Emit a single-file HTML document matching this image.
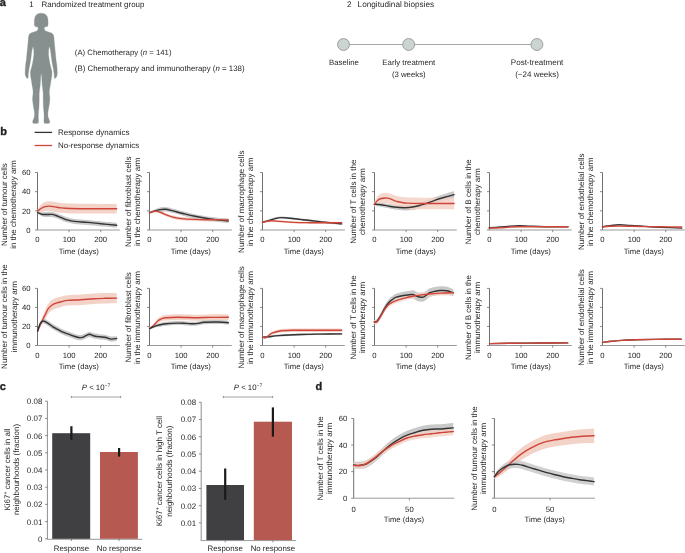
<!DOCTYPE html>
<html><head><meta charset="utf-8"><title>Figure</title>
<style>
html,body{margin:0;padding:0;background:#fff;}
body{width:685px;height:553px;overflow:hidden;}
svg{display:block;font-family:"Liberation Sans", sans-serif;will-change:transform;text-rendering:geometricPrecision;}
</style></head>
<body>
<svg width="685" height="553" viewBox="0 0 685 553">
<rect width="685" height="553" fill="#fff"/>
<text x="-0.3" y="5.8" font-size="11" font-weight="bold" stroke="#231f20" stroke-width="0.35" fill="#231f20">a</text>
<text x="29.3" y="6.6" font-size="7.95" fill="#231f20">1</text>
<text x="41.6" y="6.6" font-size="7.95" fill="#231f20">Randomized treatment group</text>
<text x="74.8" y="54.5" font-size="7.75" fill="#231f20">(A) Chemotherapy (<tspan font-style="italic">n</tspan> = 141)</text>
<text x="74.8" y="70.5" font-size="7.87" fill="#231f20">(B) Chemotherapy and immunotherapy (<tspan font-style="italic">n</tspan> = 138)</text>
<path d="M41.20,13.20 L43.60,13.50 L45.70,14.60 L47.20,16.60 L47.90,19.30 L48.10,22.00 L48.00,25.30 L47.40,26.50 L46.00,26.80 L44.40,27.00 L44.30,29.30 L45.50,31.00 L48.50,32.00 L51.50,33.00 L53.30,34.60 L53.90,37.00 L54.30,42.00 L54.90,48.20 L55.50,54.00 L56.00,59.50 L56.80,65.00 L57.20,70.00 L57.30,73.50 L56.90,76.00 L55.70,78.00 L54.60,78.50 L54.20,77.00 L54.20,74.60 L53.50,69.50 L52.30,63.50 L51.50,58.50 L51.00,54.30 L50.50,50.50 L49.70,47.00 L49.10,47.10 L48.60,50.50 L48.50,54.30 L49.00,58.50 L49.90,63.50 L51.10,68.50 L52.00,71.50 L51.80,76.00 L51.00,80.50 L50.30,85.20 L49.50,89.50 L49.30,93.30 L49.80,97.00 L49.80,100.30 L49.20,105.00 L48.30,110.00 L47.80,113.50 L48.10,117.00 L49.20,120.00 L49.80,121.50 L49.40,123.20 L47.00,123.40 L44.20,123.20 L43.90,121.00 L44.10,117.00 L44.00,113.50 L43.40,107.00 L43.20,100.30 L43.20,93.30 L42.70,89.00 L42.20,85.20 L41.90,80.00 L41.60,75.50 L41.20,73.20 L40.80,75.50 L40.50,80.00 L40.20,85.20 L39.70,89.00 L39.20,93.30 L39.20,100.30 L39.00,107.00 L38.40,113.50 L38.30,117.00 L38.50,121.00 L38.20,123.20 L35.40,123.40 L33.00,123.20 L32.60,121.50 L33.20,120.00 L34.30,117.00 L34.60,113.50 L34.10,110.00 L33.20,105.00 L32.60,100.30 L32.60,97.00 L33.10,93.30 L32.90,89.50 L32.10,85.20 L31.40,80.50 L30.60,76.00 L30.40,71.50 L31.30,68.50 L32.50,63.50 L33.40,58.50 L33.90,54.30 L33.80,50.50 L33.30,47.10 L32.70,47.00 L31.90,50.50 L31.40,54.30 L30.90,58.50 L30.10,63.50 L28.90,69.50 L28.20,74.60 L28.20,77.00 L27.80,78.50 L26.70,78.00 L25.50,76.00 L25.10,73.50 L25.20,70.00 L25.60,65.00 L26.40,59.50 L26.90,54.00 L27.50,48.20 L28.10,42.00 L28.50,37.00 L29.10,34.60 L30.90,33.00 L33.90,32.00 L36.90,31.00 L38.10,29.30 L38.00,27.00 L36.40,26.80 L35.00,26.50 L34.40,25.30 L34.30,22.00 L34.50,19.30 L35.20,16.60 L36.70,14.60 L38.80,13.50 L41.20,13.20 Z" fill="#87908e" stroke="#87908e" stroke-width="0.3" stroke-linejoin="round"/>
<text x="347.0" y="6.9" font-size="8.1" fill="#231f20">2</text>
<text x="357.6" y="6.9" font-size="8.2" fill="#231f20">Longitudinal biopsies</text>
<line x1="343.5" y1="44.5" x2="536.9" y2="44.5" stroke="#9d9d9d" stroke-width="0.9"/>
<circle cx="343.5" cy="44.5" r="5.95" fill="#ccd4d1" stroke="#979a98" stroke-width="0.95"/>
<circle cx="408.7" cy="44.5" r="5.95" fill="#ccd4d1" stroke="#979a98" stroke-width="0.95"/>
<circle cx="536.9" cy="44.5" r="5.95" fill="#ccd4d1" stroke="#979a98" stroke-width="0.95"/>
<text x="344.0" y="65.0" font-size="7.8" text-anchor="middle" fill="#231f20">Baseline</text>
<text x="408.8" y="65.0" font-size="7.8" text-anchor="middle" fill="#231f20">Early treatment</text>
<text x="408.8" y="76.7" font-size="7.8" text-anchor="middle" fill="#231f20">(3 weeks)</text>
<text x="537.1" y="65.0" font-size="8.0" text-anchor="middle" fill="#231f20">Post-treatment</text>
<text x="537.1" y="76.7" font-size="8.0" text-anchor="middle" fill="#231f20">(~24 weeks)</text>
<text x="0.2" y="134.8" font-size="11" font-weight="bold" stroke="#231f20" stroke-width="0.35" fill="#231f20">b</text>
<line x1="34.6" y1="132.4" x2="52.1" y2="132.4" stroke="#333" stroke-width="1.3"/>
<line x1="34.6" y1="145.5" x2="52.2" y2="145.5" stroke="#cf4539" stroke-width="1.3"/>
<text x="58.0" y="134.9" font-size="7.95" fill="#231f20">Response dynamics</text>
<text x="58.0" y="147.9" font-size="7.95" fill="#231f20">No-response dynamics</text>
<line x1="37.5" y1="172.5" x2="37.5" y2="230.0" stroke="#707070" stroke-width="1"/>
<line x1="37.5" y1="230.0" x2="119.8" y2="230.0" stroke="#9a9a9a" stroke-width="1"/>
<line x1="35.0" y1="172.50" x2="37.5" y2="172.50" stroke="#707070" stroke-width="0.8"/>
<line x1="35.0" y1="191.67" x2="37.5" y2="191.67" stroke="#707070" stroke-width="0.8"/>
<line x1="35.0" y1="210.83" x2="37.5" y2="210.83" stroke="#707070" stroke-width="0.8"/>
<line x1="35.0" y1="230.00" x2="37.5" y2="230.00" stroke="#707070" stroke-width="0.8"/>
<line x1="69.10" y1="230.0" x2="69.10" y2="232.2" stroke="#707070" stroke-width="0.8"/>
<line x1="100.70" y1="230.0" x2="100.70" y2="232.2" stroke="#707070" stroke-width="0.8"/>
<text x="37.5" y="242.0" font-size="7.7" text-anchor="middle" fill="#231f20">0</text>
<text x="69.1" y="242.0" font-size="7.7" text-anchor="middle" fill="#231f20">100</text>
<text x="100.7" y="242.0" font-size="7.7" text-anchor="middle" fill="#231f20">200</text>
<text x="78.8" y="253.8" font-size="7.7" text-anchor="middle" fill="#231f20">Time (days)</text>
<text x="30.6" y="175.25" font-size="7.7" text-anchor="end" fill="#231f20">60</text>
<text x="30.6" y="194.42" font-size="7.7" text-anchor="end" fill="#231f20">40</text>
<text x="30.6" y="213.58" font-size="7.7" text-anchor="end" fill="#231f20">20</text>
<text x="30.6" y="232.75" font-size="7.7" text-anchor="end" fill="#231f20">0</text>
<text transform="translate(7.30,204.55) rotate(-90)" font-size="8" text-anchor="middle" fill="#231f20">Number of tumour cells</text>
<text transform="translate(16.30,204.55) rotate(-90)" font-size="8" text-anchor="middle" fill="#231f20">in the chemotherapy arm</text>
<line x1="149.5" y1="172.5" x2="149.5" y2="230.0" stroke="#707070" stroke-width="1"/>
<line x1="149.5" y1="230.0" x2="231.8" y2="230.0" stroke="#9a9a9a" stroke-width="1"/>
<line x1="147.0" y1="172.50" x2="149.5" y2="172.50" stroke="#707070" stroke-width="0.8"/>
<line x1="147.0" y1="191.67" x2="149.5" y2="191.67" stroke="#707070" stroke-width="0.8"/>
<line x1="147.0" y1="210.83" x2="149.5" y2="210.83" stroke="#707070" stroke-width="0.8"/>
<line x1="147.0" y1="230.00" x2="149.5" y2="230.00" stroke="#707070" stroke-width="0.8"/>
<line x1="181.10" y1="230.0" x2="181.10" y2="232.2" stroke="#707070" stroke-width="0.8"/>
<line x1="212.70" y1="230.0" x2="212.70" y2="232.2" stroke="#707070" stroke-width="0.8"/>
<text x="149.5" y="242.0" font-size="7.7" text-anchor="middle" fill="#231f20">0</text>
<text x="181.1" y="242.0" font-size="7.7" text-anchor="middle" fill="#231f20">100</text>
<text x="212.7" y="242.0" font-size="7.7" text-anchor="middle" fill="#231f20">200</text>
<text x="190.8" y="253.8" font-size="7.7" text-anchor="middle" fill="#231f20">Time (days)</text>
<text transform="translate(131.20,201.75) rotate(-90)" font-size="8" text-anchor="middle" fill="#231f20">Number of fibroblast cells</text>
<text transform="translate(140.40,201.75) rotate(-90)" font-size="8" text-anchor="middle" fill="#231f20">in the chemotherapy arm</text>
<line x1="262.5" y1="172.5" x2="262.5" y2="230.0" stroke="#707070" stroke-width="1"/>
<line x1="262.5" y1="230.0" x2="344.8" y2="230.0" stroke="#9a9a9a" stroke-width="1"/>
<line x1="260.0" y1="172.50" x2="262.5" y2="172.50" stroke="#707070" stroke-width="0.8"/>
<line x1="260.0" y1="191.67" x2="262.5" y2="191.67" stroke="#707070" stroke-width="0.8"/>
<line x1="260.0" y1="210.83" x2="262.5" y2="210.83" stroke="#707070" stroke-width="0.8"/>
<line x1="260.0" y1="230.00" x2="262.5" y2="230.00" stroke="#707070" stroke-width="0.8"/>
<line x1="294.10" y1="230.0" x2="294.10" y2="232.2" stroke="#707070" stroke-width="0.8"/>
<line x1="325.70" y1="230.0" x2="325.70" y2="232.2" stroke="#707070" stroke-width="0.8"/>
<text x="262.5" y="242.0" font-size="7.7" text-anchor="middle" fill="#231f20">0</text>
<text x="294.1" y="242.0" font-size="7.7" text-anchor="middle" fill="#231f20">100</text>
<text x="325.7" y="242.0" font-size="7.7" text-anchor="middle" fill="#231f20">200</text>
<text x="303.8" y="253.8" font-size="7.7" text-anchor="middle" fill="#231f20">Time (days)</text>
<text transform="translate(244.20,201.75) rotate(-90)" font-size="8" text-anchor="middle" fill="#231f20">Number of macrophage cells</text>
<text transform="translate(253.40,201.75) rotate(-90)" font-size="8" text-anchor="middle" fill="#231f20">in the chemotherapy arm</text>
<line x1="374.5" y1="172.5" x2="374.5" y2="230.0" stroke="#707070" stroke-width="1"/>
<line x1="374.5" y1="230.0" x2="456.8" y2="230.0" stroke="#9a9a9a" stroke-width="1"/>
<line x1="372.0" y1="172.50" x2="374.5" y2="172.50" stroke="#707070" stroke-width="0.8"/>
<line x1="372.0" y1="191.67" x2="374.5" y2="191.67" stroke="#707070" stroke-width="0.8"/>
<line x1="372.0" y1="210.83" x2="374.5" y2="210.83" stroke="#707070" stroke-width="0.8"/>
<line x1="372.0" y1="230.00" x2="374.5" y2="230.00" stroke="#707070" stroke-width="0.8"/>
<line x1="406.10" y1="230.0" x2="406.10" y2="232.2" stroke="#707070" stroke-width="0.8"/>
<line x1="437.70" y1="230.0" x2="437.70" y2="232.2" stroke="#707070" stroke-width="0.8"/>
<text x="374.5" y="242.0" font-size="7.7" text-anchor="middle" fill="#231f20">0</text>
<text x="406.1" y="242.0" font-size="7.7" text-anchor="middle" fill="#231f20">100</text>
<text x="437.7" y="242.0" font-size="7.7" text-anchor="middle" fill="#231f20">200</text>
<text x="415.8" y="253.8" font-size="7.7" text-anchor="middle" fill="#231f20">Time (days)</text>
<text transform="translate(356.20,201.75) rotate(-90)" font-size="8" text-anchor="middle" fill="#231f20">Number of T cells in the</text>
<text transform="translate(365.40,201.75) rotate(-90)" font-size="8" text-anchor="middle" fill="#231f20">chemotherapy arm</text>
<line x1="489.5" y1="172.5" x2="489.5" y2="230.0" stroke="#707070" stroke-width="1"/>
<line x1="489.5" y1="230.0" x2="571.8" y2="230.0" stroke="#9a9a9a" stroke-width="1"/>
<line x1="487.0" y1="172.50" x2="489.5" y2="172.50" stroke="#707070" stroke-width="0.8"/>
<line x1="487.0" y1="191.67" x2="489.5" y2="191.67" stroke="#707070" stroke-width="0.8"/>
<line x1="487.0" y1="210.83" x2="489.5" y2="210.83" stroke="#707070" stroke-width="0.8"/>
<line x1="487.0" y1="230.00" x2="489.5" y2="230.00" stroke="#707070" stroke-width="0.8"/>
<line x1="521.10" y1="230.0" x2="521.10" y2="232.2" stroke="#707070" stroke-width="0.8"/>
<line x1="552.70" y1="230.0" x2="552.70" y2="232.2" stroke="#707070" stroke-width="0.8"/>
<text x="489.5" y="242.0" font-size="7.7" text-anchor="middle" fill="#231f20">0</text>
<text x="521.1" y="242.0" font-size="7.7" text-anchor="middle" fill="#231f20">100</text>
<text x="552.7" y="242.0" font-size="7.7" text-anchor="middle" fill="#231f20">200</text>
<text x="530.8" y="253.8" font-size="7.7" text-anchor="middle" fill="#231f20">Time (days)</text>
<text transform="translate(471.20,201.75) rotate(-90)" font-size="8" text-anchor="middle" fill="#231f20">Number of B cells in the</text>
<text transform="translate(480.40,201.75) rotate(-90)" font-size="8" text-anchor="middle" fill="#231f20">chemotherapy arm</text>
<line x1="602.5" y1="172.5" x2="602.5" y2="230.0" stroke="#707070" stroke-width="1"/>
<line x1="602.5" y1="230.0" x2="684.8" y2="230.0" stroke="#9a9a9a" stroke-width="1"/>
<line x1="600.0" y1="172.50" x2="602.5" y2="172.50" stroke="#707070" stroke-width="0.8"/>
<line x1="600.0" y1="191.67" x2="602.5" y2="191.67" stroke="#707070" stroke-width="0.8"/>
<line x1="600.0" y1="210.83" x2="602.5" y2="210.83" stroke="#707070" stroke-width="0.8"/>
<line x1="600.0" y1="230.00" x2="602.5" y2="230.00" stroke="#707070" stroke-width="0.8"/>
<line x1="634.10" y1="230.0" x2="634.10" y2="232.2" stroke="#707070" stroke-width="0.8"/>
<line x1="665.70" y1="230.0" x2="665.70" y2="232.2" stroke="#707070" stroke-width="0.8"/>
<text x="602.5" y="242.0" font-size="7.7" text-anchor="middle" fill="#231f20">0</text>
<text x="634.1" y="242.0" font-size="7.7" text-anchor="middle" fill="#231f20">100</text>
<text x="665.7" y="242.0" font-size="7.7" text-anchor="middle" fill="#231f20">200</text>
<text x="643.8" y="253.8" font-size="7.7" text-anchor="middle" fill="#231f20">Time (days)</text>
<text transform="translate(584.20,201.75) rotate(-90)" font-size="8" text-anchor="middle" fill="#231f20">Number of endothelial cells</text>
<text transform="translate(593.40,201.75) rotate(-90)" font-size="8" text-anchor="middle" fill="#231f20">in the chemotherapy arm</text>
<line x1="37.5" y1="288.4" x2="37.5" y2="345.5" stroke="#707070" stroke-width="1"/>
<line x1="37.5" y1="345.5" x2="119.8" y2="345.5" stroke="#9a9a9a" stroke-width="1"/>
<line x1="35.0" y1="288.40" x2="37.5" y2="288.40" stroke="#707070" stroke-width="0.8"/>
<line x1="35.0" y1="307.43" x2="37.5" y2="307.43" stroke="#707070" stroke-width="0.8"/>
<line x1="35.0" y1="326.47" x2="37.5" y2="326.47" stroke="#707070" stroke-width="0.8"/>
<line x1="35.0" y1="345.50" x2="37.5" y2="345.50" stroke="#707070" stroke-width="0.8"/>
<line x1="69.10" y1="345.5" x2="69.10" y2="347.7" stroke="#707070" stroke-width="0.8"/>
<line x1="100.70" y1="345.5" x2="100.70" y2="347.7" stroke="#707070" stroke-width="0.8"/>
<text x="37.5" y="357.5" font-size="7.7" text-anchor="middle" fill="#231f20">0</text>
<text x="69.1" y="357.5" font-size="7.7" text-anchor="middle" fill="#231f20">100</text>
<text x="100.7" y="357.5" font-size="7.7" text-anchor="middle" fill="#231f20">200</text>
<text x="78.8" y="369.3" font-size="7.7" text-anchor="middle" fill="#231f20">Time (days)</text>
<text x="30.6" y="291.15" font-size="7.7" text-anchor="end" fill="#231f20">60</text>
<text x="30.6" y="310.18" font-size="7.7" text-anchor="end" fill="#231f20">40</text>
<text x="30.6" y="329.22" font-size="7.7" text-anchor="end" fill="#231f20">20</text>
<text x="30.6" y="348.25" font-size="7.7" text-anchor="end" fill="#231f20">0</text>
<text transform="translate(7.30,316.65) rotate(-90)" font-size="8" text-anchor="middle" fill="#231f20">Number of tumour cells in the</text>
<text transform="translate(16.50,316.65) rotate(-90)" font-size="8" text-anchor="middle" fill="#231f20">immunotherapy arm</text>
<line x1="149.5" y1="288.4" x2="149.5" y2="345.5" stroke="#707070" stroke-width="1"/>
<line x1="149.5" y1="345.5" x2="231.8" y2="345.5" stroke="#9a9a9a" stroke-width="1"/>
<line x1="147.0" y1="288.40" x2="149.5" y2="288.40" stroke="#707070" stroke-width="0.8"/>
<line x1="147.0" y1="307.43" x2="149.5" y2="307.43" stroke="#707070" stroke-width="0.8"/>
<line x1="147.0" y1="326.47" x2="149.5" y2="326.47" stroke="#707070" stroke-width="0.8"/>
<line x1="147.0" y1="345.50" x2="149.5" y2="345.50" stroke="#707070" stroke-width="0.8"/>
<line x1="181.10" y1="345.5" x2="181.10" y2="347.7" stroke="#707070" stroke-width="0.8"/>
<line x1="212.70" y1="345.5" x2="212.70" y2="347.7" stroke="#707070" stroke-width="0.8"/>
<text x="149.5" y="357.5" font-size="7.7" text-anchor="middle" fill="#231f20">0</text>
<text x="181.1" y="357.5" font-size="7.7" text-anchor="middle" fill="#231f20">100</text>
<text x="212.7" y="357.5" font-size="7.7" text-anchor="middle" fill="#231f20">200</text>
<text x="190.8" y="369.3" font-size="7.7" text-anchor="middle" fill="#231f20">Time (days)</text>
<text transform="translate(131.20,317.45) rotate(-90)" font-size="8" text-anchor="middle" fill="#231f20">Number of fibroblast cells</text>
<text transform="translate(140.40,317.45) rotate(-90)" font-size="8" text-anchor="middle" fill="#231f20">in the immunotherapy arm</text>
<line x1="262.5" y1="288.4" x2="262.5" y2="345.5" stroke="#707070" stroke-width="1"/>
<line x1="262.5" y1="345.5" x2="344.8" y2="345.5" stroke="#9a9a9a" stroke-width="1"/>
<line x1="260.0" y1="288.40" x2="262.5" y2="288.40" stroke="#707070" stroke-width="0.8"/>
<line x1="260.0" y1="307.43" x2="262.5" y2="307.43" stroke="#707070" stroke-width="0.8"/>
<line x1="260.0" y1="326.47" x2="262.5" y2="326.47" stroke="#707070" stroke-width="0.8"/>
<line x1="260.0" y1="345.50" x2="262.5" y2="345.50" stroke="#707070" stroke-width="0.8"/>
<line x1="294.10" y1="345.5" x2="294.10" y2="347.7" stroke="#707070" stroke-width="0.8"/>
<line x1="325.70" y1="345.5" x2="325.70" y2="347.7" stroke="#707070" stroke-width="0.8"/>
<text x="262.5" y="357.5" font-size="7.7" text-anchor="middle" fill="#231f20">0</text>
<text x="294.1" y="357.5" font-size="7.7" text-anchor="middle" fill="#231f20">100</text>
<text x="325.7" y="357.5" font-size="7.7" text-anchor="middle" fill="#231f20">200</text>
<text x="303.8" y="369.3" font-size="7.7" text-anchor="middle" fill="#231f20">Time (days)</text>
<text transform="translate(244.20,317.45) rotate(-90)" font-size="8" text-anchor="middle" fill="#231f20">Number of macrophage cells</text>
<text transform="translate(253.40,317.45) rotate(-90)" font-size="8" text-anchor="middle" fill="#231f20">in the immunotherapy arm</text>
<line x1="374.5" y1="288.4" x2="374.5" y2="345.5" stroke="#707070" stroke-width="1"/>
<line x1="374.5" y1="345.5" x2="456.8" y2="345.5" stroke="#9a9a9a" stroke-width="1"/>
<line x1="372.0" y1="288.40" x2="374.5" y2="288.40" stroke="#707070" stroke-width="0.8"/>
<line x1="372.0" y1="307.43" x2="374.5" y2="307.43" stroke="#707070" stroke-width="0.8"/>
<line x1="372.0" y1="326.47" x2="374.5" y2="326.47" stroke="#707070" stroke-width="0.8"/>
<line x1="372.0" y1="345.50" x2="374.5" y2="345.50" stroke="#707070" stroke-width="0.8"/>
<line x1="406.10" y1="345.5" x2="406.10" y2="347.7" stroke="#707070" stroke-width="0.8"/>
<line x1="437.70" y1="345.5" x2="437.70" y2="347.7" stroke="#707070" stroke-width="0.8"/>
<text x="374.5" y="357.5" font-size="7.7" text-anchor="middle" fill="#231f20">0</text>
<text x="406.1" y="357.5" font-size="7.7" text-anchor="middle" fill="#231f20">100</text>
<text x="437.7" y="357.5" font-size="7.7" text-anchor="middle" fill="#231f20">200</text>
<text x="415.8" y="369.3" font-size="7.7" text-anchor="middle" fill="#231f20">Time (days)</text>
<text transform="translate(356.20,317.45) rotate(-90)" font-size="8" text-anchor="middle" fill="#231f20">Number of T cells in the</text>
<text transform="translate(365.40,317.45) rotate(-90)" font-size="8" text-anchor="middle" fill="#231f20">immunotherapy arm</text>
<line x1="489.5" y1="288.4" x2="489.5" y2="345.5" stroke="#707070" stroke-width="1"/>
<line x1="489.5" y1="345.5" x2="571.8" y2="345.5" stroke="#9a9a9a" stroke-width="1"/>
<line x1="487.0" y1="288.40" x2="489.5" y2="288.40" stroke="#707070" stroke-width="0.8"/>
<line x1="487.0" y1="307.43" x2="489.5" y2="307.43" stroke="#707070" stroke-width="0.8"/>
<line x1="487.0" y1="326.47" x2="489.5" y2="326.47" stroke="#707070" stroke-width="0.8"/>
<line x1="487.0" y1="345.50" x2="489.5" y2="345.50" stroke="#707070" stroke-width="0.8"/>
<line x1="521.10" y1="345.5" x2="521.10" y2="347.7" stroke="#707070" stroke-width="0.8"/>
<line x1="552.70" y1="345.5" x2="552.70" y2="347.7" stroke="#707070" stroke-width="0.8"/>
<text x="489.5" y="357.5" font-size="7.7" text-anchor="middle" fill="#231f20">0</text>
<text x="521.1" y="357.5" font-size="7.7" text-anchor="middle" fill="#231f20">100</text>
<text x="552.7" y="357.5" font-size="7.7" text-anchor="middle" fill="#231f20">200</text>
<text x="530.8" y="369.3" font-size="7.7" text-anchor="middle" fill="#231f20">Time (days)</text>
<text transform="translate(471.20,317.45) rotate(-90)" font-size="8" text-anchor="middle" fill="#231f20">Number of B cells in the</text>
<text transform="translate(480.40,317.45) rotate(-90)" font-size="8" text-anchor="middle" fill="#231f20">immunotherapy arm</text>
<line x1="602.5" y1="288.4" x2="602.5" y2="345.5" stroke="#707070" stroke-width="1"/>
<line x1="602.5" y1="345.5" x2="684.8" y2="345.5" stroke="#9a9a9a" stroke-width="1"/>
<line x1="600.0" y1="288.40" x2="602.5" y2="288.40" stroke="#707070" stroke-width="0.8"/>
<line x1="600.0" y1="307.43" x2="602.5" y2="307.43" stroke="#707070" stroke-width="0.8"/>
<line x1="600.0" y1="326.47" x2="602.5" y2="326.47" stroke="#707070" stroke-width="0.8"/>
<line x1="600.0" y1="345.50" x2="602.5" y2="345.50" stroke="#707070" stroke-width="0.8"/>
<line x1="634.10" y1="345.5" x2="634.10" y2="347.7" stroke="#707070" stroke-width="0.8"/>
<line x1="665.70" y1="345.5" x2="665.70" y2="347.7" stroke="#707070" stroke-width="0.8"/>
<text x="602.5" y="357.5" font-size="7.7" text-anchor="middle" fill="#231f20">0</text>
<text x="634.1" y="357.5" font-size="7.7" text-anchor="middle" fill="#231f20">100</text>
<text x="665.7" y="357.5" font-size="7.7" text-anchor="middle" fill="#231f20">200</text>
<text x="643.8" y="369.3" font-size="7.7" text-anchor="middle" fill="#231f20">Time (days)</text>
<text transform="translate(584.20,317.45) rotate(-90)" font-size="8" text-anchor="middle" fill="#231f20">Number of endothelial cells</text>
<text transform="translate(593.40,317.45) rotate(-90)" font-size="8" text-anchor="middle" fill="#231f20">in the immunotherapy arm</text>
<path d="M37.60,209.70 C38.17,208.86 39.77,205.98 41.00,204.68 C42.23,203.38 43.58,202.50 45.00,201.91 C46.42,201.32 47.83,201.13 49.50,201.13 C51.17,201.13 53.03,201.62 55.00,201.92 C56.97,202.23 58.80,202.67 61.30,202.95 C63.80,203.23 66.05,203.44 70.00,203.59 C73.95,203.74 80.00,203.80 85.00,203.86 C90.00,203.91 94.72,203.90 100.00,203.92 C105.28,203.95 113.92,203.99 116.70,204.00 L116.70,213.40 C113.92,213.41 105.28,213.45 100.00,213.48 C94.72,213.50 90.00,213.55 85.00,213.54 C80.00,213.53 73.95,213.53 70.00,213.41 C66.05,213.29 63.80,213.10 61.30,212.85 C58.80,212.59 56.97,212.17 55.00,211.88 C53.03,211.58 51.17,211.17 49.50,211.07 C47.83,210.97 46.42,211.08 45.00,211.29 C43.58,211.50 42.23,212.08 41.00,212.32 C39.77,212.55 38.17,212.64 37.60,212.70 Z" fill="#f3d2c7" fill-opacity="1.0" stroke="none"/>
<path d="M37.60,211.40 C38.27,211.54 40.20,212.16 41.60,212.24 C43.00,212.33 44.25,211.97 46.00,211.90 C47.75,211.83 50.43,211.65 52.10,211.82 C53.77,211.99 54.47,212.39 56.00,212.93 C57.53,213.47 59.47,214.32 61.30,215.05 C63.13,215.77 64.82,216.62 67.00,217.26 C69.18,217.90 70.97,218.44 74.40,218.88 C77.83,219.32 83.22,219.52 87.60,219.92 C91.98,220.31 95.85,220.78 100.70,221.26 C105.55,221.74 114.03,222.54 116.70,222.80 L116.70,227.60 C114.03,227.36 105.55,226.60 100.70,226.14 C95.85,225.69 91.98,225.25 87.60,224.88 C83.22,224.51 77.83,224.34 74.40,223.92 C70.97,223.49 69.18,222.97 67.00,222.34 C64.82,221.71 63.13,220.87 61.30,220.15 C59.47,219.44 57.53,218.60 56.00,218.07 C54.47,217.54 53.77,217.14 52.10,216.98 C50.43,216.82 47.75,217.23 46.00,217.10 C44.25,216.96 43.00,216.71 41.60,216.16 C40.20,215.61 38.27,214.19 37.60,213.80 Z" fill="#c9c9c9" fill-opacity="1.0" stroke="none"/>
<path d="M37.60,211.20 C38.17,210.75 39.77,209.27 41.00,208.50 C42.23,207.73 43.58,207.00 45.00,206.60 C46.42,206.20 47.83,206.05 49.50,206.10 C51.17,206.15 53.03,206.60 55.00,206.90 C56.97,207.20 58.80,207.63 61.30,207.90 C63.80,208.17 66.05,208.37 70.00,208.50 C73.95,208.63 80.00,208.67 85.00,208.70 C90.00,208.73 94.72,208.70 100.00,208.70 C105.28,208.70 113.92,208.70 116.70,208.70" fill="none" stroke="#cf4539" stroke-width="1.4" stroke-linejoin="round" stroke-linecap="round"/>
<path d="M37.60,212.60 C38.27,212.87 40.20,213.88 41.60,214.20 C43.00,214.52 44.25,214.47 46.00,214.50 C47.75,214.53 50.43,214.23 52.10,214.40 C53.77,214.57 54.47,214.97 56.00,215.50 C57.53,216.03 59.47,216.88 61.30,217.60 C63.13,218.32 64.82,219.17 67.00,219.80 C69.18,220.43 70.97,220.97 74.40,221.40 C77.83,221.83 83.22,222.02 87.60,222.40 C91.98,222.78 95.85,223.23 100.70,223.70 C105.55,224.17 114.03,224.95 116.70,225.20" fill="none" stroke="#333333" stroke-width="1.4" stroke-linejoin="round" stroke-linecap="round"/>
<path d="M149.50,212.00 C150.08,211.74 151.83,210.83 153.00,210.47 C154.17,210.11 155.17,209.75 156.50,209.83 C157.83,209.92 159.25,210.36 161.00,211.00 C162.75,211.63 164.67,212.83 167.00,213.67 C169.33,214.51 172.17,215.43 175.00,216.03 C177.83,216.64 179.83,216.98 184.00,217.29 C188.17,217.61 194.83,217.80 200.00,217.92 C205.17,218.05 210.28,218.03 215.00,218.06 C219.72,218.09 226.08,218.09 228.30,218.10 L228.30,221.70 C226.08,221.67 219.72,221.61 215.00,221.54 C210.28,221.47 205.17,221.45 200.00,221.28 C194.83,221.10 188.17,220.86 184.00,220.51 C179.83,220.15 177.83,219.79 175.00,219.17 C172.17,218.54 169.33,217.59 167.00,216.73 C164.67,215.87 162.75,214.73 161.00,214.00 C159.25,213.28 157.83,212.61 156.50,212.37 C155.17,212.12 154.17,212.33 153.00,212.53 C151.83,212.74 150.08,213.42 149.50,213.60 Z" fill="#f3d2c7" fill-opacity="1.0" stroke="none"/>
<path d="M149.50,212.00 C150.42,211.54 153.25,210.03 155.00,209.27 C156.75,208.50 158.25,207.76 160.00,207.40 C161.75,207.04 163.50,206.94 165.50,207.12 C167.50,207.29 169.08,207.73 172.00,208.44 C174.92,209.14 179.17,210.41 183.00,211.37 C186.83,212.33 190.50,213.29 195.00,214.20 C199.50,215.12 204.45,216.05 210.00,216.85 C215.55,217.65 225.25,218.64 228.30,219.00 L228.30,223.00 C225.25,222.66 215.55,221.72 210.00,220.95 C204.45,220.19 199.50,219.28 195.00,218.40 C190.50,217.51 186.83,216.57 183.00,215.63 C179.17,214.69 174.92,213.46 172.00,212.76 C169.08,212.07 167.50,211.64 165.50,211.48 C163.50,211.32 161.75,211.66 160.00,211.80 C158.25,211.94 156.75,212.03 155.00,212.33 C153.25,212.63 150.42,213.39 149.50,213.60 Z" fill="#c9c9c9" fill-opacity="1.0" stroke="none"/>
<path d="M149.50,212.80 C150.42,212.47 153.25,211.33 155.00,210.80 C156.75,210.27 158.25,209.85 160.00,209.60 C161.75,209.35 163.50,209.13 165.50,209.30 C167.50,209.47 169.08,209.90 172.00,210.60 C174.92,211.30 179.17,212.55 183.00,213.50 C186.83,214.45 190.50,215.40 195.00,216.30 C199.50,217.20 204.45,218.12 210.00,218.90 C215.55,219.68 225.25,220.65 228.30,221.00" fill="none" stroke="#333333" stroke-width="1.4" stroke-linejoin="round" stroke-linecap="round"/>
<path d="M149.50,212.80 C150.08,212.58 151.83,211.78 153.00,211.50 C154.17,211.22 155.17,210.93 156.50,211.10 C157.83,211.27 159.25,211.82 161.00,212.50 C162.75,213.18 164.67,214.35 167.00,215.20 C169.33,216.05 172.17,216.98 175.00,217.60 C177.83,218.22 179.83,218.57 184.00,218.90 C188.17,219.23 194.83,219.45 200.00,219.60 C205.17,219.75 210.28,219.75 215.00,219.80 C219.72,219.85 226.08,219.88 228.30,219.90" fill="none" stroke="#cf4539" stroke-width="1.4" stroke-linejoin="round" stroke-linecap="round"/>
<path d="M262.50,221.20 C263.42,220.97 265.92,220.40 268.00,219.80 C270.08,219.20 272.78,218.13 275.00,217.60 C277.22,217.07 278.80,216.65 281.30,216.60 C283.80,216.55 286.88,217.00 290.00,217.30 C293.12,217.60 296.67,218.03 300.00,218.40 C303.33,218.77 305.83,219.02 310.00,219.50 C314.17,219.98 319.72,220.73 325.00,221.30 C330.28,221.87 338.92,222.63 341.70,222.90 L341.70,224.90 C338.92,224.63 330.28,223.87 325.00,223.30 C319.72,222.73 314.17,221.98 310.00,221.50 C305.83,221.02 303.33,220.77 300.00,220.40 C296.67,220.03 293.12,219.60 290.00,219.30 C286.88,219.00 283.80,218.55 281.30,218.60 C278.80,218.65 277.22,219.07 275.00,219.60 C272.78,220.13 270.08,221.20 268.00,221.80 C265.92,222.40 263.42,222.97 262.50,223.20 Z" fill="#c9c9c9" fill-opacity="1.0" stroke="none"/>
<path d="M262.50,221.20 C263.25,221.03 265.40,220.43 267.00,220.20 C268.60,219.97 269.93,219.77 272.10,219.80 C274.27,219.83 276.28,220.13 280.00,220.40 C283.72,220.67 289.40,221.18 294.40,221.40 C299.40,221.62 304.90,221.63 310.00,221.70 C315.10,221.77 319.72,221.78 325.00,221.80 C330.28,221.82 338.92,221.80 341.70,221.80 L341.70,223.80 C338.92,223.80 330.28,223.82 325.00,223.80 C319.72,223.78 315.10,223.77 310.00,223.70 C304.90,223.63 299.40,223.62 294.40,223.40 C289.40,223.18 283.72,222.67 280.00,222.40 C276.28,222.13 274.27,221.83 272.10,221.80 C269.93,221.77 268.60,221.97 267.00,222.20 C265.40,222.43 263.25,223.03 262.50,223.20 Z" fill="#f3d2c7" fill-opacity="1.0" stroke="none"/>
<path d="M262.50,222.20 C263.42,221.97 265.92,221.40 268.00,220.80 C270.08,220.20 272.78,219.13 275.00,218.60 C277.22,218.07 278.80,217.65 281.30,217.60 C283.80,217.55 286.88,218.00 290.00,218.30 C293.12,218.60 296.67,219.03 300.00,219.40 C303.33,219.77 305.83,220.02 310.00,220.50 C314.17,220.98 319.72,221.73 325.00,222.30 C330.28,222.87 338.92,223.63 341.70,223.90" fill="none" stroke="#333333" stroke-width="1.4" stroke-linejoin="round" stroke-linecap="round"/>
<path d="M262.50,222.20 C263.25,222.03 265.40,221.43 267.00,221.20 C268.60,220.97 269.93,220.77 272.10,220.80 C274.27,220.83 276.28,221.13 280.00,221.40 C283.72,221.67 289.40,222.18 294.40,222.40 C299.40,222.62 304.90,222.63 310.00,222.70 C315.10,222.77 319.72,222.78 325.00,222.80 C330.28,222.82 338.92,222.80 341.70,222.80" fill="none" stroke="#cf4539" stroke-width="1.4" stroke-linejoin="round" stroke-linecap="round"/>
<path d="M374.30,202.40 C375.43,202.45 378.90,202.47 381.10,202.69 C383.30,202.90 385.30,203.37 387.50,203.69 C389.70,204.00 391.42,204.36 394.30,204.58 C397.18,204.80 401.52,205.12 404.80,205.01 C408.08,204.91 411.38,204.41 414.00,203.94 C416.62,203.48 418.32,202.88 420.50,202.22 C422.68,201.56 424.93,200.77 427.10,200.00 C429.27,199.23 431.30,198.39 433.50,197.58 C435.70,196.77 438.05,195.90 440.30,195.16 C442.55,194.41 444.70,193.82 447.00,193.13 C449.30,192.44 452.92,191.36 454.10,191.00 L454.10,198.20 C452.92,198.51 449.30,199.46 447.00,200.07 C444.70,200.68 442.55,201.19 440.30,201.84 C438.05,202.50 435.70,203.29 433.50,204.02 C431.30,204.75 429.27,205.51 427.10,206.20 C424.93,206.89 422.68,207.60 420.50,208.18 C418.32,208.76 416.62,209.29 414.00,209.66 C411.38,210.03 408.08,210.43 404.80,210.39 C401.52,210.35 397.18,209.80 394.30,209.42 C391.42,209.04 389.70,208.56 387.50,208.11 C385.30,207.66 383.30,207.06 381.10,206.71 C378.90,206.36 375.43,206.12 374.30,206.00 Z" fill="#c9c9c9" fill-opacity="1.0" stroke="none"/>
<path d="M374.30,201.90 C374.83,201.02 376.37,198.00 377.50,196.60 C378.63,195.19 379.40,194.09 381.10,193.48 C382.80,192.87 386.05,192.87 387.70,192.95 C389.35,193.03 389.68,193.50 391.00,193.96 C392.32,194.41 393.93,195.23 395.60,195.68 C397.27,196.13 399.03,196.39 401.00,196.66 C402.97,196.93 404.13,197.13 407.40,197.30 C410.67,197.47 416.00,197.63 420.60,197.70 C425.20,197.77 429.42,197.70 435.00,197.70 C440.58,197.70 450.92,197.70 454.10,197.70 L454.10,209.30 C450.92,209.30 440.58,209.30 435.00,209.30 C429.42,209.30 425.20,209.37 420.60,209.30 C416.00,209.23 410.67,209.13 407.40,208.90 C404.13,208.67 402.97,208.34 401.00,207.94 C399.03,207.54 397.27,207.11 395.60,206.52 C393.93,205.94 392.32,204.99 391.00,204.44 C389.68,203.89 389.35,203.41 387.70,203.25 C386.05,203.10 382.80,203.33 381.10,203.52 C379.40,203.71 378.63,203.84 377.50,204.40 C376.37,204.97 374.83,206.48 374.30,206.90 Z" fill="#f3d2c7" fill-opacity="0.85" stroke="none"/>
<path d="M374.30,204.20 C375.43,204.28 378.90,204.42 381.10,204.70 C383.30,204.98 385.30,205.52 387.50,205.90 C389.70,206.28 391.42,206.70 394.30,207.00 C397.18,207.30 401.52,207.73 404.80,207.70 C408.08,207.67 411.38,207.22 414.00,206.80 C416.62,206.38 418.32,205.82 420.50,205.20 C422.68,204.58 424.93,203.83 427.10,203.10 C429.27,202.37 431.30,201.57 433.50,200.80 C435.70,200.03 438.05,199.20 440.30,198.50 C442.55,197.80 444.70,197.25 447.00,196.60 C449.30,195.95 452.92,194.93 454.10,194.60" fill="none" stroke="#333333" stroke-width="1.4" stroke-linejoin="round" stroke-linecap="round"/>
<path d="M374.30,204.40 C374.83,203.75 376.37,201.48 377.50,200.50 C378.63,199.52 379.40,198.90 381.10,198.50 C382.80,198.10 386.05,197.98 387.70,198.10 C389.35,198.22 389.68,198.70 391.00,199.20 C392.32,199.70 393.93,200.58 395.60,201.10 C397.27,201.62 399.03,201.97 401.00,202.30 C402.97,202.63 404.13,202.90 407.40,203.10 C410.67,203.30 416.00,203.43 420.60,203.50 C425.20,203.57 429.42,203.50 435.00,203.50 C440.58,203.50 450.92,203.50 454.10,203.50" fill="none" stroke="#cf4539" stroke-width="1.4" stroke-linejoin="round" stroke-linecap="round"/>
<path d="M489.20,227.80 C491.00,227.67 496.53,227.28 500.00,227.00 C503.47,226.72 506.77,226.32 510.00,226.10 C513.23,225.88 516.07,225.68 519.40,225.70 C522.73,225.72 525.73,226.03 530.00,226.20 C534.27,226.37 538.67,226.60 545.00,226.70 C551.33,226.80 564.17,226.78 568.00,226.80" fill="none" stroke="#333333" stroke-width="1.4" stroke-linejoin="round" stroke-linecap="round"/>
<path d="M489.20,228.10 C491.00,228.05 496.53,227.97 500.00,227.80 C503.47,227.63 506.77,227.27 510.00,227.10 C513.23,226.93 514.40,226.85 519.40,226.80 C524.40,226.75 531.90,226.80 540.00,226.80 C548.10,226.80 563.33,226.80 568.00,226.80" fill="none" stroke="#cf4539" stroke-width="1.4" stroke-linejoin="round" stroke-linecap="round"/>
<path d="M602.50,226.80 C603.75,226.60 607.20,225.93 610.00,225.60 C612.80,225.27 615.97,224.83 619.30,224.80 C622.63,224.77 625.72,225.13 630.00,225.40 C634.28,225.67 640.00,226.10 645.00,226.40 C650.00,226.70 653.88,226.92 660.00,227.20 C666.12,227.48 678.08,227.95 681.70,228.10" fill="none" stroke="#333333" stroke-width="1.4" stroke-linejoin="round" stroke-linecap="round"/>
<path d="M602.50,226.80 C603.75,226.72 607.20,226.42 610.00,226.30 C612.80,226.18 614.30,226.07 619.30,226.10 C624.30,226.13 633.22,226.38 640.00,226.50 C646.78,226.62 653.05,226.72 660.00,226.80 C666.95,226.88 678.08,226.97 681.70,227.00" fill="none" stroke="#cf4539" stroke-width="1.4" stroke-linejoin="round" stroke-linecap="round"/>
<path d="M37.60,329.70 C37.92,328.78 38.83,325.98 39.50,324.16 C40.17,322.34 40.93,320.46 41.60,318.77 C42.27,317.09 42.85,315.59 43.50,314.06 C44.15,312.54 44.73,311.31 45.50,309.62 C46.27,307.93 47.00,305.55 48.10,303.90 C49.20,302.25 50.78,300.71 52.10,299.72 C53.42,298.73 54.47,298.50 56.00,297.96 C57.53,297.42 59.33,296.96 61.30,296.50 C63.27,296.04 64.52,295.53 67.80,295.20 C71.08,294.87 76.62,294.78 81.00,294.50 C85.38,294.22 90.10,293.73 94.10,293.50 C98.10,293.27 101.23,293.20 105.00,293.10 C108.77,293.00 114.75,292.93 116.70,292.90 L116.70,303.30 C114.75,303.33 108.77,303.40 105.00,303.50 C101.23,303.60 98.10,303.67 94.10,303.90 C90.10,304.13 85.38,304.62 81.00,304.90 C76.62,305.18 71.08,305.27 67.80,305.60 C64.52,305.93 63.27,306.43 61.30,306.90 C59.33,307.37 57.53,307.88 56.00,308.44 C54.47,309.00 53.42,309.37 52.10,310.28 C50.78,311.19 49.20,312.48 48.10,313.90 C47.00,315.31 46.27,317.44 45.50,318.78 C44.73,320.12 44.15,320.86 43.50,321.94 C42.85,323.01 42.27,324.07 41.60,325.23 C40.93,326.38 40.17,327.59 39.50,328.84 C38.83,330.08 37.92,332.06 37.60,332.70 Z" fill="#f3d2c7" fill-opacity="1.0" stroke="none"/>
<path d="M37.60,330.00 C38.05,328.56 39.32,323.27 40.30,321.34 C41.28,319.41 42.20,318.49 43.50,318.40 C44.80,318.31 46.52,319.83 48.10,320.80 C49.68,321.77 51.25,323.12 53.00,324.20 C54.75,325.28 56.93,326.40 58.60,327.30 C60.27,328.20 61.47,328.93 63.00,329.60 C64.53,330.27 66.13,330.70 67.80,331.30 C69.47,331.90 71.23,332.60 73.00,333.20 C74.77,333.80 76.85,334.63 78.40,334.90 C79.95,335.17 81.03,335.12 82.30,334.80 C83.57,334.48 84.80,333.52 86.00,333.00 C87.20,332.48 88.42,331.73 89.50,331.70 C90.58,331.67 91.52,332.48 92.50,332.80 C93.48,333.12 94.15,333.37 95.40,333.60 C96.65,333.83 98.23,333.98 100.00,334.20 C101.77,334.42 104.13,334.52 106.00,334.90 C107.87,335.28 109.42,336.33 111.20,336.50 C112.98,336.67 115.78,336.00 116.70,335.90 L116.70,341.10 C115.78,341.20 112.98,341.87 111.20,341.70 C109.42,341.53 107.87,340.48 106.00,340.10 C104.13,339.72 101.77,339.62 100.00,339.40 C98.23,339.18 96.65,339.03 95.40,338.80 C94.15,338.57 93.48,338.32 92.50,338.00 C91.52,337.68 90.58,336.87 89.50,336.90 C88.42,336.93 87.20,337.68 86.00,338.20 C84.80,338.72 83.57,339.68 82.30,340.00 C81.03,340.32 79.95,340.37 78.40,340.10 C76.85,339.83 74.77,339.00 73.00,338.40 C71.23,337.80 69.47,337.10 67.80,336.50 C66.13,335.90 64.53,335.47 63.00,334.80 C61.47,334.13 60.27,333.40 58.60,332.50 C56.93,331.60 54.75,330.48 53.00,329.40 C51.25,328.32 49.68,326.97 48.10,326.00 C46.52,325.03 44.80,323.69 43.50,323.60 C42.20,323.51 41.28,323.99 40.30,325.46 C39.32,326.93 38.05,331.24 37.60,332.40 Z" fill="#c9c9c9" fill-opacity="1.0" stroke="none"/>
<path d="M37.60,331.20 C37.92,330.42 38.83,328.03 39.50,326.50 C40.17,324.97 40.93,323.42 41.60,322.00 C42.27,320.58 42.85,319.30 43.50,318.00 C44.15,316.70 44.73,315.72 45.50,314.20 C46.27,312.68 47.00,310.43 48.10,308.90 C49.20,307.37 50.78,305.95 52.10,305.00 C53.42,304.05 54.47,303.75 56.00,303.20 C57.53,302.65 59.33,302.17 61.30,301.70 C63.27,301.23 64.52,300.73 67.80,300.40 C71.08,300.07 76.62,299.98 81.00,299.70 C85.38,299.42 90.10,298.93 94.10,298.70 C98.10,298.47 101.23,298.40 105.00,298.30 C108.77,298.20 114.75,298.13 116.70,298.10" fill="none" stroke="#cf4539" stroke-width="1.4" stroke-linejoin="round" stroke-linecap="round"/>
<path d="M37.60,331.20 C38.05,329.90 39.32,325.10 40.30,323.40 C41.28,321.70 42.20,321.00 43.50,321.00 C44.80,321.00 46.52,322.43 48.10,323.40 C49.68,324.37 51.25,325.72 53.00,326.80 C54.75,327.88 56.93,329.00 58.60,329.90 C60.27,330.80 61.47,331.53 63.00,332.20 C64.53,332.87 66.13,333.30 67.80,333.90 C69.47,334.50 71.23,335.20 73.00,335.80 C74.77,336.40 76.85,337.23 78.40,337.50 C79.95,337.77 81.03,337.72 82.30,337.40 C83.57,337.08 84.80,336.12 86.00,335.60 C87.20,335.08 88.42,334.33 89.50,334.30 C90.58,334.27 91.52,335.08 92.50,335.40 C93.48,335.72 94.15,335.97 95.40,336.20 C96.65,336.43 98.23,336.58 100.00,336.80 C101.77,337.02 104.13,337.12 106.00,337.50 C107.87,337.88 109.42,338.93 111.20,339.10 C112.98,339.27 115.78,338.60 116.70,338.50" fill="none" stroke="#333333" stroke-width="1.4" stroke-linejoin="round" stroke-linecap="round"/>
<path d="M149.60,327.60 C150.17,327.07 151.58,325.96 153.00,324.39 C154.42,322.83 156.60,319.61 158.10,318.20 C159.60,316.79 160.68,316.49 162.00,315.93 C163.32,315.38 163.37,315.16 166.00,314.87 C168.63,314.58 172.53,314.23 177.80,314.20 C183.07,314.17 192.23,314.67 197.60,314.70 C202.97,314.73 204.87,314.47 210.00,314.40 C215.13,314.33 225.33,314.32 228.40,314.30 L228.40,320.30 C225.33,320.32 215.13,320.33 210.00,320.40 C204.87,320.47 202.97,320.73 197.60,320.70 C192.23,320.67 183.07,320.23 177.80,320.20 C172.53,320.17 168.63,320.36 166.00,320.53 C163.37,320.71 163.32,320.82 162.00,321.27 C160.68,321.71 159.60,322.15 158.10,323.20 C156.60,324.26 154.42,326.54 153.00,327.61 C151.58,328.67 150.17,329.27 149.60,329.60 Z" fill="#f3d2c7" fill-opacity="1.0" stroke="none"/>
<path d="M149.60,327.60 C150.17,327.28 151.58,326.36 153.00,325.67 C154.42,324.99 155.93,324.13 158.10,323.48 C160.27,322.84 162.72,322.20 166.00,321.80 C169.28,321.40 174.47,321.17 177.80,321.10 C181.13,321.03 183.37,321.28 186.00,321.40 C188.63,321.52 191.43,321.83 193.60,321.80 C195.77,321.77 197.25,321.45 199.00,321.20 C200.75,320.95 200.83,320.50 204.10,320.30 C207.37,320.10 214.55,319.93 218.60,320.00 C222.65,320.07 226.77,320.58 228.40,320.70 L228.40,324.70 C226.77,324.58 222.65,324.07 218.60,324.00 C214.55,323.93 207.37,324.10 204.10,324.30 C200.83,324.50 200.75,324.95 199.00,325.20 C197.25,325.45 195.77,325.77 193.60,325.80 C191.43,325.83 188.63,325.52 186.00,325.40 C183.37,325.28 181.13,325.03 177.80,325.10 C174.47,325.17 169.28,325.46 166.00,325.80 C162.72,326.14 160.27,326.70 158.10,327.12 C155.93,327.54 154.42,327.91 153.00,328.33 C151.58,328.74 150.17,329.39 149.60,329.60 Z" fill="#c9c9c9" fill-opacity="1.0" stroke="none"/>
<path d="M149.60,328.60 C150.17,328.17 151.58,327.32 153.00,326.00 C154.42,324.68 156.60,321.93 158.10,320.70 C159.60,319.47 160.68,319.10 162.00,318.60 C163.32,318.10 163.37,317.93 166.00,317.70 C168.63,317.47 172.53,317.20 177.80,317.20 C183.07,317.20 192.23,317.67 197.60,317.70 C202.97,317.73 204.87,317.47 210.00,317.40 C215.13,317.33 225.33,317.32 228.40,317.30" fill="none" stroke="#cf4539" stroke-width="1.4" stroke-linejoin="round" stroke-linecap="round"/>
<path d="M149.60,328.60 C150.17,328.33 151.58,327.55 153.00,327.00 C154.42,326.45 155.93,325.83 158.10,325.30 C160.27,324.77 162.72,324.17 166.00,323.80 C169.28,323.43 174.47,323.17 177.80,323.10 C181.13,323.03 183.37,323.28 186.00,323.40 C188.63,323.52 191.43,323.83 193.60,323.80 C195.77,323.77 197.25,323.45 199.00,323.20 C200.75,322.95 200.83,322.50 204.10,322.30 C207.37,322.10 214.55,321.93 218.60,322.00 C222.65,322.07 226.77,322.58 228.40,322.70" fill="none" stroke="#333333" stroke-width="1.4" stroke-linejoin="round" stroke-linecap="round"/>
<path d="M262.50,336.40 C263.00,336.47 264.42,337.22 265.50,336.83 C266.58,336.43 267.90,334.86 269.00,334.03 C270.10,333.20 270.48,332.61 272.10,331.85 C273.72,331.09 275.42,330.03 278.70,329.47 C281.98,328.92 286.58,328.68 291.80,328.50 C297.02,328.32 301.68,328.42 310.00,328.40 C318.32,328.38 336.42,328.40 341.70,328.40 L341.70,332.00 C336.42,332.00 318.32,331.98 310.00,332.00 C301.68,332.02 297.02,331.95 291.80,332.10 C286.58,332.25 281.98,332.52 278.70,332.93 C275.42,333.33 273.72,333.97 272.10,334.55 C270.48,335.12 270.10,335.67 269.00,336.37 C267.90,337.08 266.58,338.50 265.50,338.77 C264.42,339.04 263.00,338.13 262.50,338.00 Z" fill="#f3d2c7" fill-opacity="1.0" stroke="none"/>
<path d="M262.50,336.20 C263.43,336.13 265.40,336.07 268.10,335.80 C270.80,335.53 273.22,334.98 278.70,334.60 C284.18,334.22 294.12,333.75 301.00,333.50 C307.88,333.25 313.22,333.20 320.00,333.10 C326.78,333.00 338.08,332.93 341.70,332.90 L341.70,334.90 C338.08,334.93 326.78,335.00 320.00,335.10 C313.22,335.20 307.88,335.25 301.00,335.50 C294.12,335.75 284.18,336.22 278.70,336.60 C273.22,336.98 270.80,337.53 268.10,337.80 C265.40,338.07 263.43,338.13 262.50,338.20 Z" fill="#c9c9c9" fill-opacity="1.0" stroke="none"/>
<path d="M262.50,337.20 C263.43,337.13 265.40,337.07 268.10,336.80 C270.80,336.53 273.22,335.98 278.70,335.60 C284.18,335.22 294.12,334.75 301.00,334.50 C307.88,334.25 313.22,334.20 320.00,334.10 C326.78,334.00 338.08,333.93 341.70,333.90" fill="none" stroke="#333333" stroke-width="1.4" stroke-linejoin="round" stroke-linecap="round"/>
<path d="M262.50,337.20 C263.00,337.30 264.42,338.13 265.50,337.80 C266.58,337.47 267.90,335.97 269.00,335.20 C270.10,334.43 270.48,333.87 272.10,333.20 C273.72,332.53 275.42,331.68 278.70,331.20 C281.98,330.72 286.58,330.47 291.80,330.30 C297.02,330.13 301.68,330.22 310.00,330.20 C318.32,330.18 336.42,330.20 341.70,330.20" fill="none" stroke="#cf4539" stroke-width="1.4" stroke-linejoin="round" stroke-linecap="round"/>
<path d="M374.30,320.00 C374.78,319.79 376.07,320.03 377.20,318.72 C378.33,317.41 379.78,314.51 381.10,312.15 C382.42,309.79 383.78,306.78 385.10,304.57 C386.42,302.36 387.77,300.32 389.00,298.90 C390.23,297.47 391.40,296.83 392.50,296.00 C393.60,295.17 393.77,294.60 395.60,293.90 C397.43,293.20 400.87,292.40 403.50,291.82 C406.13,291.25 409.65,290.63 411.40,290.43 C413.15,290.23 412.92,290.27 414.00,290.60 C415.08,290.93 416.37,292.06 417.90,292.41 C419.43,292.75 421.77,292.94 423.20,292.65 C424.63,292.37 425.40,291.42 426.50,290.71 C427.60,289.99 428.38,288.97 429.80,288.36 C431.22,287.75 433.25,287.39 435.00,287.05 C436.75,286.71 438.33,286.39 440.30,286.34 C442.27,286.29 444.62,286.27 446.80,286.75 C448.98,287.22 452.30,288.79 453.40,289.20 L453.40,296.20 C452.30,295.98 448.98,295.11 446.80,294.85 C444.62,294.60 442.27,294.55 440.30,294.66 C438.33,294.78 436.75,295.15 435.00,295.55 C433.25,295.95 431.22,296.38 429.80,297.04 C428.38,297.69 427.60,298.74 426.50,299.49 C425.40,300.24 424.63,301.26 423.20,301.55 C421.77,301.83 419.43,301.62 417.90,301.19 C416.37,300.77 415.08,299.44 414.00,299.00 C412.92,298.56 413.15,298.54 411.40,298.57 C409.65,298.60 406.13,298.79 403.50,299.18 C400.87,299.56 397.43,300.26 395.60,300.90 C393.77,301.54 393.60,302.20 392.50,303.00 C391.40,303.80 390.23,304.43 389.00,305.70 C387.77,306.98 386.42,308.67 385.10,310.63 C383.78,312.59 382.42,315.34 381.10,317.45 C379.78,319.56 378.33,322.19 377.20,323.28 C376.07,324.37 374.78,323.88 374.30,324.00 Z" fill="#c9c9c9" fill-opacity="1.0" stroke="none"/>
<path d="M374.30,320.00 C374.78,319.95 376.07,320.83 377.20,319.71 C378.33,318.59 379.78,315.48 381.10,313.28 C382.42,311.09 383.78,308.46 385.10,306.56 C386.42,304.65 387.47,303.11 389.00,301.83 C390.53,300.56 391.88,299.89 394.30,298.90 C396.72,297.91 400.22,296.80 403.50,295.90 C406.78,295.00 410.07,294.20 414.00,293.50 C417.93,292.80 422.72,292.18 427.10,291.70 C431.48,291.22 435.92,290.85 440.30,290.60 C444.68,290.35 451.22,290.27 453.40,290.20 L453.40,295.20 C451.22,295.27 444.68,295.35 440.30,295.60 C435.92,295.85 431.48,296.22 427.10,296.70 C422.72,297.18 417.93,297.80 414.00,298.50 C410.07,299.20 406.78,300.00 403.50,300.90 C400.22,301.80 396.72,302.92 394.30,303.90 C391.88,304.88 390.53,305.54 389.00,306.77 C387.47,307.99 386.42,309.42 385.10,311.24 C383.78,313.07 382.42,315.61 381.10,317.72 C379.78,319.82 378.33,322.85 377.20,323.89 C376.07,324.94 374.78,323.98 374.30,324.00 Z" fill="#f3d2c7" fill-opacity="0.7" stroke="none"/>
<path d="M374.30,322.00 C374.78,321.83 376.07,322.20 377.20,321.00 C378.33,319.80 379.78,317.03 381.10,314.80 C382.42,312.57 383.78,309.68 385.10,307.60 C386.42,305.52 387.77,303.65 389.00,302.30 C390.23,300.95 391.40,300.32 392.50,299.50 C393.60,298.68 393.77,298.07 395.60,297.40 C397.43,296.73 400.87,295.98 403.50,295.50 C406.13,295.02 409.65,294.62 411.40,294.50 C413.15,294.38 412.92,294.42 414.00,294.80 C415.08,295.18 416.37,296.42 417.90,296.80 C419.43,297.18 421.77,297.38 423.20,297.10 C424.63,296.82 425.40,295.83 426.50,295.10 C427.60,294.37 428.38,293.33 429.80,292.70 C431.22,292.07 433.25,291.67 435.00,291.30 C436.75,290.93 438.33,290.58 440.30,290.50 C442.27,290.42 444.62,290.43 446.80,290.80 C448.98,291.17 452.30,292.38 453.40,292.70" fill="none" stroke="#333333" stroke-width="1.4" stroke-linejoin="round" stroke-linecap="round"/>
<path d="M374.30,322.00 C374.78,321.97 376.07,322.88 377.20,321.80 C378.33,320.72 379.78,317.65 381.10,315.50 C382.42,313.35 383.78,310.77 385.10,308.90 C386.42,307.03 387.47,305.55 389.00,304.30 C390.53,303.05 391.88,302.38 394.30,301.40 C396.72,300.42 400.22,299.30 403.50,298.40 C406.78,297.50 410.07,296.70 414.00,296.00 C417.93,295.30 422.72,294.68 427.10,294.20 C431.48,293.72 435.92,293.35 440.30,293.10 C444.68,292.85 451.22,292.77 453.40,292.70" fill="none" stroke="#cf4539" stroke-width="1.4" stroke-linejoin="round" stroke-linecap="round"/>
<path d="M489.60,343.60 C493.00,343.55 501.60,343.40 510.00,343.30 C518.40,343.20 530.38,343.07 540.00,343.00 C549.62,342.93 563.08,342.92 567.70,342.90" fill="none" stroke="#333333" stroke-width="1.4" stroke-linejoin="round" stroke-linecap="round"/>
<path d="M489.60,343.60 C493.00,343.55 501.60,343.40 510.00,343.30 C518.40,343.20 530.38,343.07 540.00,343.00 C549.62,342.93 563.08,342.92 567.70,342.90" fill="none" stroke="#cf4539" stroke-width="1.4" stroke-linejoin="round" stroke-linecap="round"/>
<path d="M602.50,342.40 C604.08,342.22 608.75,341.63 612.00,341.30 C615.25,340.97 618.17,340.65 622.00,340.40 C625.83,340.15 629.50,339.97 635.00,339.80 C640.50,339.63 647.32,339.50 655.00,339.40 C662.68,339.30 676.75,339.23 681.10,339.20" fill="none" stroke="#333333" stroke-width="1.4" stroke-linejoin="round" stroke-linecap="round"/>
<path d="M602.50,342.40 C604.08,342.22 608.75,341.63 612.00,341.30 C615.25,340.97 618.17,340.65 622.00,340.40 C625.83,340.15 629.50,339.97 635.00,339.80 C640.50,339.63 647.32,339.50 655.00,339.40 C662.68,339.30 676.75,339.23 681.10,339.20" fill="none" stroke="#cf4539" stroke-width="1.4" stroke-linejoin="round" stroke-linecap="round"/>
<text x="-0.2" y="390.0" font-size="11" font-weight="bold" stroke="#231f20" stroke-width="0.35" fill="#231f20">c</text>
<line x1="47.4" y1="401.2" x2="47.4" y2="539.3" stroke="#8e8e8e" stroke-width="1"/>
<line x1="46.9" y1="539.3" x2="142.4" y2="539.3" stroke="#9a9a9a" stroke-width="1"/>
<line x1="45.1" y1="401.20" x2="47.4" y2="401.20" stroke="#707070" stroke-width="0.8"/>
<text x="42.3" y="404.15" font-size="7.95" text-anchor="end" fill="#231f20">0.08</text>
<line x1="45.1" y1="418.40" x2="47.4" y2="418.40" stroke="#707070" stroke-width="0.8"/>
<text x="42.3" y="421.35" font-size="7.95" text-anchor="end" fill="#231f20">0.07</text>
<line x1="45.1" y1="435.60" x2="47.4" y2="435.60" stroke="#707070" stroke-width="0.8"/>
<text x="42.3" y="438.55" font-size="7.95" text-anchor="end" fill="#231f20">0.06</text>
<line x1="45.1" y1="452.80" x2="47.4" y2="452.80" stroke="#707070" stroke-width="0.8"/>
<text x="42.3" y="455.75" font-size="7.95" text-anchor="end" fill="#231f20">0.05</text>
<line x1="45.1" y1="470.00" x2="47.4" y2="470.00" stroke="#707070" stroke-width="0.8"/>
<text x="42.3" y="472.95" font-size="7.95" text-anchor="end" fill="#231f20">0.04</text>
<line x1="45.1" y1="487.20" x2="47.4" y2="487.20" stroke="#707070" stroke-width="0.8"/>
<text x="42.3" y="490.15" font-size="7.95" text-anchor="end" fill="#231f20">0.03</text>
<line x1="45.1" y1="504.40" x2="47.4" y2="504.40" stroke="#707070" stroke-width="0.8"/>
<text x="42.3" y="507.35" font-size="7.95" text-anchor="end" fill="#231f20">0.02</text>
<line x1="45.1" y1="521.60" x2="47.4" y2="521.60" stroke="#707070" stroke-width="0.8"/>
<text x="42.3" y="524.55" font-size="7.95" text-anchor="end" fill="#231f20">0.01</text>
<line x1="45.1" y1="538.80" x2="47.4" y2="538.80" stroke="#707070" stroke-width="0.8"/>
<text x="42.3" y="541.75" font-size="7.95" text-anchor="end" fill="#231f20">0</text>
<rect x="52.2" y="433.2" width="38.00" height="105.60" fill="#404042"/>
<rect x="100.0" y="452.0" width="37.90" height="86.80" fill="#b65a51"/>
<line x1="71.4" y1="426.2" x2="71.4" y2="439.6" stroke="#1a1a1a" stroke-width="2.2"/>
<line x1="71.4" y1="538.8" x2="71.4" y2="541.0" stroke="#707070" stroke-width="0.8"/>
<line x1="119.1" y1="448.0" x2="119.1" y2="456.6" stroke="#1a1a1a" stroke-width="2.2"/>
<line x1="119.1" y1="538.8" x2="119.1" y2="541.0" stroke="#707070" stroke-width="0.8"/>
<line x1="71.4" y1="397.0" x2="120.6" y2="397.0" stroke="#8a8a8a" stroke-width="0.8"/>
<line x1="71.4" y1="396.1" x2="71.4" y2="398.1" stroke="#777" stroke-width="0.8"/>
<line x1="120.6" y1="396.1" x2="120.6" y2="398.1" stroke="#777" stroke-width="0.8"/>
<text x="96.0" y="390.0" font-size="7.8" text-anchor="middle" fill="#231f20"><tspan font-style="italic">P</tspan> &lt; 10<tspan font-size="5" dy="-3">−7</tspan></text>
<text x="71.4" y="551.4" font-size="7.85" text-anchor="middle" fill="#231f20">Response</text>
<text x="119.1" y="551.4" font-size="7.85" text-anchor="middle" fill="#231f20">No response</text>
<text transform="translate(9.70,469.50) rotate(-90)" font-size="8" text-anchor="middle" fill="#231f20">Ki67<tspan font-size="5" dy="-3">+</tspan><tspan dy="3"> cancer cells in all</tspan></text>
<text transform="translate(19.05,469.50) rotate(-90)" font-size="8" text-anchor="middle" fill="#231f20">neighbourhoods (fraction)</text>
<line x1="201.2" y1="402.3" x2="201.2" y2="540.6" stroke="#8e8e8e" stroke-width="1"/>
<line x1="200.7" y1="540.6" x2="296.2" y2="540.6" stroke="#9a9a9a" stroke-width="1"/>
<line x1="198.89999999999998" y1="402.30" x2="201.2" y2="402.30" stroke="#707070" stroke-width="0.8"/>
<text x="196.1" y="405.25" font-size="7.95" text-anchor="end" fill="#231f20">0.08</text>
<line x1="198.89999999999998" y1="419.53" x2="201.2" y2="419.53" stroke="#707070" stroke-width="0.8"/>
<text x="196.1" y="422.48" font-size="7.95" text-anchor="end" fill="#231f20">0.07</text>
<line x1="198.89999999999998" y1="436.75" x2="201.2" y2="436.75" stroke="#707070" stroke-width="0.8"/>
<text x="196.1" y="439.7" font-size="7.95" text-anchor="end" fill="#231f20">0.06</text>
<line x1="198.89999999999998" y1="453.98" x2="201.2" y2="453.98" stroke="#707070" stroke-width="0.8"/>
<text x="196.1" y="456.93" font-size="7.95" text-anchor="end" fill="#231f20">0.05</text>
<line x1="198.89999999999998" y1="471.20" x2="201.2" y2="471.20" stroke="#707070" stroke-width="0.8"/>
<text x="196.1" y="474.15" font-size="7.95" text-anchor="end" fill="#231f20">0.04</text>
<line x1="198.89999999999998" y1="488.43" x2="201.2" y2="488.43" stroke="#707070" stroke-width="0.8"/>
<text x="196.1" y="491.38" font-size="7.95" text-anchor="end" fill="#231f20">0.03</text>
<line x1="198.89999999999998" y1="505.65" x2="201.2" y2="505.65" stroke="#707070" stroke-width="0.8"/>
<text x="196.1" y="508.6" font-size="7.95" text-anchor="end" fill="#231f20">0.02</text>
<line x1="198.89999999999998" y1="522.88" x2="201.2" y2="522.88" stroke="#707070" stroke-width="0.8"/>
<text x="196.1" y="525.83" font-size="7.95" text-anchor="end" fill="#231f20">0.01</text>
<rect x="206.4" y="485.0" width="37.60" height="55.10" fill="#404042"/>
<rect x="253.8" y="421.7" width="38.20" height="118.40" fill="#b65a51"/>
<line x1="225.2" y1="468.5" x2="225.2" y2="499.8" stroke="#1a1a1a" stroke-width="2.2"/>
<line x1="225.2" y1="540.1" x2="225.2" y2="542.3000000000001" stroke="#707070" stroke-width="0.8"/>
<line x1="272.9" y1="407.4" x2="272.9" y2="436.7" stroke="#1a1a1a" stroke-width="2.2"/>
<line x1="272.9" y1="540.1" x2="272.9" y2="542.3000000000001" stroke="#707070" stroke-width="0.8"/>
<line x1="223.4" y1="397.0" x2="272.6" y2="397.0" stroke="#8a8a8a" stroke-width="0.8"/>
<line x1="223.4" y1="396.1" x2="223.4" y2="398.1" stroke="#777" stroke-width="0.8"/>
<line x1="272.6" y1="396.1" x2="272.6" y2="398.1" stroke="#777" stroke-width="0.8"/>
<text x="248.0" y="390.0" font-size="7.8" text-anchor="middle" fill="#231f20"><tspan font-style="italic">P</tspan> &lt; 10<tspan font-size="5" dy="-3">−7</tspan></text>
<text x="225.2" y="551.4" font-size="7.85" text-anchor="middle" fill="#231f20">Response</text>
<text x="272.9" y="551.4" font-size="7.85" text-anchor="middle" fill="#231f20">No response</text>
<text transform="translate(162.20,471.20) rotate(-90)" font-size="8" text-anchor="middle" fill="#231f20">Ki67<tspan font-size="5" dy="-3">+</tspan><tspan dy="3"> cancer cells in high T cell</tspan></text>
<text transform="translate(171.55,471.20) rotate(-90)" font-size="8" text-anchor="middle" fill="#231f20">neighbourhoods (fraction)</text>
<text x="315.4" y="389.9" font-size="11" font-weight="bold" stroke="#231f20" stroke-width="0.35" fill="#231f20">d</text>
<line x1="353.7" y1="418.5" x2="353.7" y2="498.2" stroke="#707070" stroke-width="1"/>
<line x1="353.7" y1="498.2" x2="454.2" y2="498.2" stroke="#9a9a9a" stroke-width="1"/>
<line x1="351.2" y1="418.50" x2="353.7" y2="418.50" stroke="#707070" stroke-width="0.8"/>
<line x1="351.2" y1="445.07" x2="353.7" y2="445.07" stroke="#707070" stroke-width="0.8"/>
<line x1="351.2" y1="471.63" x2="353.7" y2="471.63" stroke="#707070" stroke-width="0.8"/>
<line x1="351.2" y1="498.20" x2="353.7" y2="498.20" stroke="#707070" stroke-width="0.8"/>
<line x1="409.40" y1="498.2" x2="409.40" y2="500.4" stroke="#707070" stroke-width="0.8"/>
<text x="353.7" y="511.5" font-size="7.7" text-anchor="middle" fill="#231f20">0</text>
<text x="409.4" y="511.5" font-size="7.7" text-anchor="middle" fill="#231f20">50</text>
<text x="404.0" y="522.2" font-size="7.7" text-anchor="middle" fill="#231f20">Time (days)</text>
<text x="347.4" y="421.25" font-size="7.7" text-anchor="end" fill="#231f20">60</text>
<text x="347.4" y="447.82" font-size="7.7" text-anchor="end" fill="#231f20">40</text>
<text x="347.4" y="474.38" font-size="7.7" text-anchor="end" fill="#231f20">20</text>
<text x="347.4" y="500.95" font-size="7.7" text-anchor="end" fill="#231f20">0</text>
<text transform="translate(322.50,458.50) rotate(-90)" font-size="8" text-anchor="middle" fill="#231f20">Number of T cells in the</text>
<text transform="translate(331.80,458.50) rotate(-90)" font-size="8" text-anchor="middle" fill="#231f20">immunotherapy arm</text>
<line x1="494.4" y1="418.5" x2="494.4" y2="498.2" stroke="#707070" stroke-width="1"/>
<line x1="494.4" y1="498.2" x2="594.9" y2="498.2" stroke="#9a9a9a" stroke-width="1"/>
<line x1="491.9" y1="418.50" x2="494.4" y2="418.50" stroke="#707070" stroke-width="0.8"/>
<line x1="491.9" y1="445.07" x2="494.4" y2="445.07" stroke="#707070" stroke-width="0.8"/>
<line x1="491.9" y1="471.63" x2="494.4" y2="471.63" stroke="#707070" stroke-width="0.8"/>
<line x1="491.9" y1="498.20" x2="494.4" y2="498.20" stroke="#707070" stroke-width="0.8"/>
<line x1="550.10" y1="498.2" x2="550.10" y2="500.4" stroke="#707070" stroke-width="0.8"/>
<text x="494.4" y="511.5" font-size="7.7" text-anchor="middle" fill="#231f20">0</text>
<text x="550.1" y="511.5" font-size="7.7" text-anchor="middle" fill="#231f20">50</text>
<text x="544.7" y="522.2" font-size="7.7" text-anchor="middle" fill="#231f20">Time (days)</text>
<text transform="translate(476.80,458.50) rotate(-90)" font-size="8" text-anchor="middle" fill="#231f20">Number of tumour cells in the</text>
<text transform="translate(486.10,458.50) rotate(-90)" font-size="8" text-anchor="middle" fill="#231f20">immunotherapy arm</text>
<path d="M353.60,461.50 C354.63,461.54 357.68,461.92 359.80,461.73 C361.92,461.54 363.87,461.47 366.30,460.36 C368.73,459.24 371.70,457.18 374.40,455.06 C377.10,452.94 379.78,450.08 382.50,447.64 C385.22,445.21 387.98,442.55 390.70,440.45 C393.42,438.35 396.08,436.67 398.80,435.06 C401.52,433.45 404.28,431.95 407.00,430.77 C409.72,429.59 412.40,428.81 415.10,427.96 C417.80,427.12 420.48,426.28 423.20,425.71 C425.92,425.14 428.68,424.79 431.40,424.55 C434.12,424.32 437.07,424.43 439.50,424.30 C441.93,424.16 443.70,423.95 446.00,423.75 C448.30,423.55 452.08,423.21 453.30,423.10 L453.30,432.70 C452.08,432.79 448.30,433.08 446.00,433.25 C443.70,433.42 441.93,433.60 439.50,433.70 C437.07,433.80 434.12,433.65 431.40,433.85 C428.68,434.05 425.92,434.36 423.20,434.89 C420.48,435.42 417.80,436.25 415.10,437.04 C412.40,437.83 409.72,438.55 407.00,439.63 C404.28,440.71 401.52,442.05 398.80,443.54 C396.08,445.03 393.42,446.58 390.70,448.55 C387.98,450.52 385.22,453.03 382.50,455.36 C379.78,457.69 377.10,460.49 374.40,462.54 C371.70,464.58 368.73,466.59 366.30,467.64 C363.87,468.70 361.92,468.73 359.80,468.87 C357.68,469.01 354.63,468.56 353.60,468.50 Z" fill="#c9c9c9" fill-opacity="1.0" stroke="none"/>
<path d="M353.60,462.30 C354.63,462.36 357.68,462.92 359.80,462.63 C361.92,462.34 363.87,461.87 366.30,460.56 C368.73,459.25 371.70,456.84 374.40,454.78 C377.10,452.71 379.78,450.25 382.50,448.19 C385.22,446.13 387.98,444.06 390.70,442.40 C393.42,440.74 396.08,439.54 398.80,438.21 C401.52,436.89 404.28,435.43 407.00,434.46 C409.72,433.49 412.40,432.98 415.10,432.42 C417.80,431.85 420.48,431.45 423.20,431.07 C425.92,430.69 428.68,430.46 431.40,430.12 C434.12,429.79 437.07,429.36 439.50,429.08 C441.93,428.80 443.70,428.67 446.00,428.44 C448.30,428.21 452.08,427.82 453.30,427.70 L453.30,435.30 C452.08,435.41 448.30,435.76 446.00,435.96 C443.70,436.16 441.93,436.27 439.50,436.52 C437.07,436.78 434.12,437.18 431.40,437.48 C428.68,437.78 425.92,437.98 423.20,438.33 C420.48,438.68 417.80,439.05 415.10,439.58 C412.40,440.12 409.72,440.61 407.00,441.54 C404.28,442.47 401.52,443.91 398.80,445.19 C396.08,446.46 393.42,447.60 390.70,449.20 C387.98,450.80 385.22,452.81 382.50,454.81 C379.78,456.82 377.10,459.22 374.40,461.22 C371.70,463.23 368.73,465.58 366.30,466.84 C363.87,468.09 361.92,468.52 359.80,468.77 C357.68,469.01 354.63,468.38 353.60,468.30 Z" fill="#f3d2c7" fill-opacity="0.8" stroke="none"/>
<path d="M353.60,465.00 C354.63,465.05 357.68,465.47 359.80,465.30 C361.92,465.13 363.87,465.08 366.30,464.00 C368.73,462.92 371.70,460.88 374.40,458.80 C377.10,456.72 379.78,453.88 382.50,451.50 C385.22,449.12 387.98,446.53 390.70,444.50 C393.42,442.47 396.08,440.85 398.80,439.30 C401.52,437.75 404.28,436.33 407.00,435.20 C409.72,434.07 412.40,433.32 415.10,432.50 C417.80,431.68 420.48,430.85 423.20,430.30 C425.92,429.75 428.68,429.42 431.40,429.20 C434.12,428.98 437.07,429.12 439.50,429.00 C441.93,428.88 443.70,428.68 446.00,428.50 C448.30,428.32 452.08,428.00 453.30,427.90" fill="none" stroke="#333333" stroke-width="1.4" stroke-linejoin="round" stroke-linecap="round"/>
<path d="M353.60,465.30 C354.63,465.37 357.68,465.97 359.80,465.70 C361.92,465.43 363.87,464.98 366.30,463.70 C368.73,462.42 371.70,460.03 374.40,458.00 C377.10,455.97 379.78,453.53 382.50,451.50 C385.22,449.47 387.98,447.43 390.70,445.80 C393.42,444.17 396.08,443.00 398.80,441.70 C401.52,440.40 404.28,438.95 407.00,438.00 C409.72,437.05 412.40,436.55 415.10,436.00 C417.80,435.45 420.48,435.07 423.20,434.70 C425.92,434.33 428.68,434.12 431.40,433.80 C434.12,433.48 437.07,433.07 439.50,432.80 C441.93,432.53 443.70,432.42 446.00,432.20 C448.30,431.98 452.08,431.62 453.30,431.50" fill="none" stroke="#cf4539" stroke-width="1.4" stroke-linejoin="round" stroke-linecap="round"/>
<path d="M494.40,474.20 C495.30,473.41 497.82,471.33 499.80,469.44 C501.78,467.54 503.87,465.34 506.30,462.83 C508.73,460.31 511.70,456.98 514.40,454.35 C517.10,451.72 519.78,449.11 522.50,447.04 C525.22,444.97 527.98,443.48 530.70,441.93 C533.42,440.38 536.08,438.92 538.80,437.73 C541.52,436.54 544.28,435.58 547.00,434.81 C549.72,434.04 552.40,433.62 555.10,433.10 C557.80,432.59 560.48,432.15 563.20,431.70 C565.92,431.25 568.68,430.76 571.40,430.39 C574.12,430.03 576.90,429.74 579.50,429.49 C582.10,429.24 584.57,429.06 587.00,428.89 C589.43,428.73 592.92,428.57 594.10,428.50 L594.10,442.90 C592.92,442.93 589.43,443.01 587.00,443.11 C584.57,443.21 582.10,443.33 579.50,443.51 C576.90,443.69 574.12,443.91 571.40,444.21 C568.68,444.50 565.92,444.92 563.20,445.30 C560.48,445.68 557.80,446.05 555.10,446.50 C552.40,446.94 549.72,447.29 547.00,447.99 C544.28,448.69 541.52,449.59 538.80,450.67 C536.08,451.75 533.42,453.05 530.70,454.47 C527.98,455.88 525.22,457.43 522.50,459.16 C519.78,460.89 517.10,462.85 514.40,464.85 C511.70,466.86 508.73,469.32 506.30,471.17 C503.87,473.03 501.78,474.63 499.80,475.96 C497.82,477.30 495.30,478.66 494.40,479.20 Z" fill="#f3d2c7" fill-opacity="1.0" stroke="none"/>
<path d="M494.40,474.70 C495.02,473.80 496.83,470.82 498.10,469.28 C499.37,467.73 500.63,466.54 502.00,465.42 C503.37,464.30 504.97,463.27 506.30,462.56 C507.63,461.84 508.65,461.50 510.00,461.13 C511.35,460.77 513.07,460.50 514.40,460.39 C515.73,460.28 516.65,460.31 518.00,460.47 C519.35,460.62 520.38,460.74 522.50,461.30 C524.62,461.86 527.98,462.98 530.70,463.80 C533.42,464.62 536.08,465.38 538.80,466.20 C541.52,467.02 544.28,467.93 547.00,468.70 C549.72,469.47 552.40,470.13 555.10,470.80 C557.80,471.47 560.48,472.12 563.20,472.70 C565.92,473.28 568.68,473.80 571.40,474.30 C574.12,474.80 576.90,475.32 579.50,475.70 C582.10,476.08 584.57,476.28 587.00,476.60 C589.43,476.92 592.92,477.43 594.10,477.60 L594.10,485.60 C592.92,485.43 589.43,484.92 587.00,484.60 C584.57,484.28 582.10,484.08 579.50,483.70 C576.90,483.32 574.12,482.80 571.40,482.30 C568.68,481.80 565.92,481.28 563.20,480.70 C560.48,480.12 557.80,479.47 555.10,478.80 C552.40,478.13 549.72,477.47 547.00,476.70 C544.28,475.93 541.52,475.02 538.80,474.20 C536.08,473.38 533.42,472.62 530.70,471.80 C527.98,470.98 524.62,469.88 522.50,469.30 C520.38,468.72 519.35,468.55 518.00,468.33 C516.65,468.12 515.73,467.99 514.40,468.01 C513.07,468.04 511.35,468.20 510.00,468.47 C508.65,468.74 507.63,469.13 506.30,469.64 C504.97,470.16 503.37,470.80 502.00,471.58 C500.63,472.36 499.37,473.14 498.10,474.32 C496.83,475.51 495.02,477.97 494.40,478.70 Z" fill="#c9c9c9" fill-opacity="0.85" stroke="none"/>
<path d="M494.40,476.70 C495.30,476.03 497.82,474.32 499.80,472.70 C501.78,471.08 503.87,469.18 506.30,467.00 C508.73,464.82 511.70,461.92 514.40,459.60 C517.10,457.28 519.78,455.00 522.50,453.10 C525.22,451.20 527.98,449.68 530.70,448.20 C533.42,446.72 536.08,445.33 538.80,444.20 C541.52,443.07 544.28,442.13 547.00,441.40 C549.72,440.67 552.40,440.28 555.10,439.80 C557.80,439.32 560.48,438.92 563.20,438.50 C565.92,438.08 568.68,437.63 571.40,437.30 C574.12,436.97 576.90,436.72 579.50,436.50 C582.10,436.28 584.57,436.13 587.00,436.00 C589.43,435.87 592.92,435.75 594.10,435.70" fill="none" stroke="#cf4539" stroke-width="1.4" stroke-linejoin="round" stroke-linecap="round"/>
<path d="M494.40,476.70 C495.02,475.88 496.83,473.17 498.10,471.80 C499.37,470.43 500.63,469.45 502.00,468.50 C503.37,467.55 504.97,466.72 506.30,466.10 C507.63,465.48 508.65,465.12 510.00,464.80 C511.35,464.48 513.07,464.27 514.40,464.20 C515.73,464.13 516.65,464.22 518.00,464.40 C519.35,464.58 520.38,464.73 522.50,465.30 C524.62,465.87 527.98,466.98 530.70,467.80 C533.42,468.62 536.08,469.38 538.80,470.20 C541.52,471.02 544.28,471.93 547.00,472.70 C549.72,473.47 552.40,474.13 555.10,474.80 C557.80,475.47 560.48,476.12 563.20,476.70 C565.92,477.28 568.68,477.80 571.40,478.30 C574.12,478.80 576.90,479.32 579.50,479.70 C582.10,480.08 584.57,480.28 587.00,480.60 C589.43,480.92 592.92,481.43 594.10,481.60" fill="none" stroke="#333333" stroke-width="1.4" stroke-linejoin="round" stroke-linecap="round"/>
</svg>
</body></html>
